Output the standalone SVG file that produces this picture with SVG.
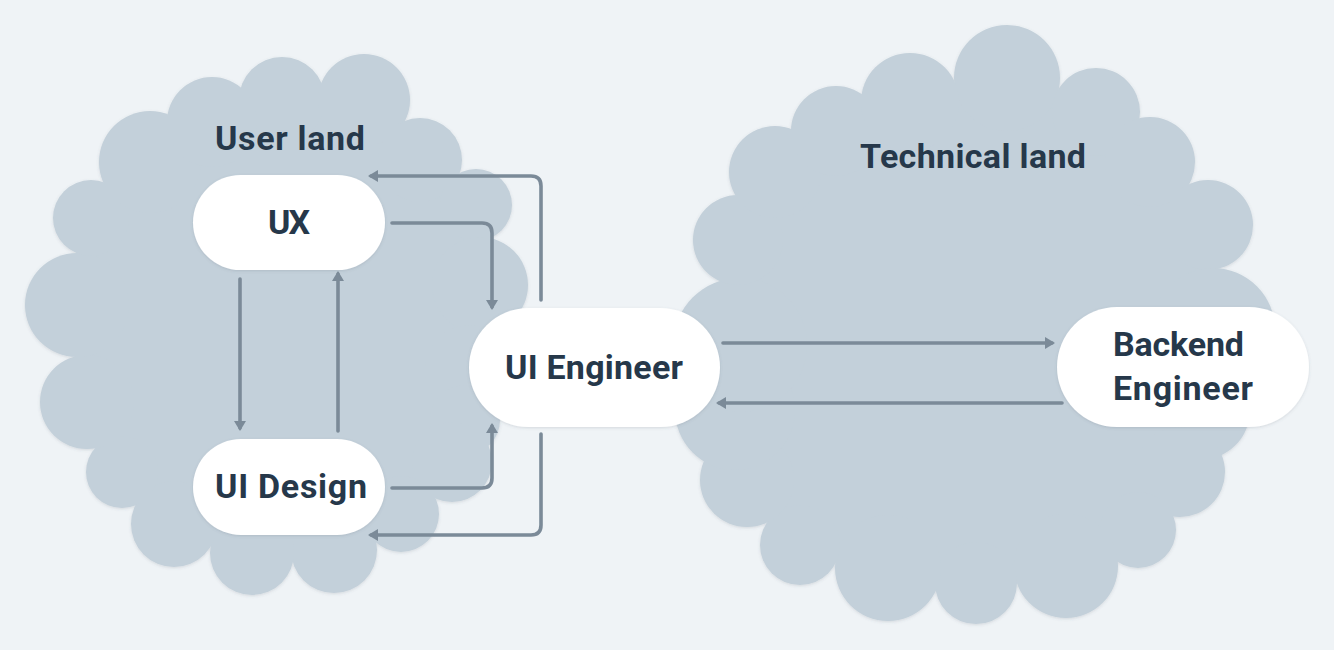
<svg xmlns="http://www.w3.org/2000/svg" width="1334" height="650" viewBox="0 0 1334 650">
<defs>
<style>
.cloud{fill:#c3d0da}
.node{fill:#ffffff}
.t{font-family:Roboto,"Liberation Sans",sans-serif;font-weight:700;font-size:34px;fill:#26384a}
.c{text-anchor:middle}
.conn path{fill:none;stroke:#7b8a98;stroke-width:3.6;stroke-linecap:round;stroke-linejoin:round;marker-end:url(#ah)}
</style>
<marker id="ah" markerUnits="userSpaceOnUse" markerWidth="10" markerHeight="12" viewBox="0 0 10 12" refX="7" refY="6" orient="auto">
<path d="M0,0 L10,6 L0,12 z" fill="#7b8a98"/>
</marker>
<filter id="sh" x="-10%" y="-10%" width="120%" height="120%">
<feDropShadow dx="0" dy="1" stdDeviation="1.5" flood-color="#506070" flood-opacity="0.18"/>
</filter>
</defs>
<rect width="1334" height="650" fill="#eff3f6"/>
<g id="user-land" class="cloud" filter="url(#sh)">
<polygon points="282,100 364,100 420,160 476,205 480,285 470,370 465,420 452,462 401,514 334,550 252,553 174,524 122,472 87,402 77,305 91,218 150,162 212,122"/>
<circle cx="282" cy="100" r="43"/>
<circle cx="364" cy="100" r="46"/>
<circle cx="420" cy="160" r="42"/>
<circle cx="476" cy="205" r="36"/>
<circle cx="480" cy="285" r="48"/>
<circle cx="470" cy="370" r="45"/>
<circle cx="465" cy="420" r="35"/>
<circle cx="452" cy="462" r="40"/>
<circle cx="401" cy="514" r="38"/>
<circle cx="334" cy="550" r="43"/>
<circle cx="252" cy="553" r="42"/>
<circle cx="174" cy="524" r="43"/>
<circle cx="122" cy="472" r="36"/>
<circle cx="87" cy="402" r="47"/>
<circle cx="77" cy="305" r="52"/>
<circle cx="91" cy="218" r="38"/>
<circle cx="150" cy="162" r="51"/>
<circle cx="212" cy="122" r="45"/>
</g>
<g id="technical-land" class="cloud" filter="url(#sh)">
<polygon points="1007,78 1096,112 1150,162 1208,225 1213,330 1200,410 1180,472 1138,530 1066,566 976,583 888,568 800,545 747,480 735,410 740,345 738,240 775,172 836,131 910,102"/>
<circle cx="1007" cy="78" r="53"/>
<circle cx="1096" cy="112" r="44"/>
<circle cx="1150" cy="162" r="45"/>
<circle cx="1208" cy="225" r="45"/>
<circle cx="1213" cy="330" r="62"/>
<circle cx="1200" cy="410" r="50"/>
<circle cx="1180" cy="472" r="45"/>
<circle cx="1138" cy="530" r="38"/>
<circle cx="1066" cy="566" r="52"/>
<circle cx="976" cy="583" r="41"/>
<circle cx="888" cy="568" r="53"/>
<circle cx="800" cy="545" r="40"/>
<circle cx="747" cy="480" r="47"/>
<circle cx="735" cy="410" r="60"/>
<circle cx="740" cy="345" r="67"/>
<circle cx="738" cy="240" r="45"/>
<circle cx="775" cy="172" r="46"/>
<circle cx="836" cy="131" r="45"/>
<circle cx="910" cy="102" r="49"/>
</g>
<text class="t" x="215" y="150" textLength="150" lengthAdjust="spacing">User land</text>
<text class="t" x="860" y="168" textLength="226" lengthAdjust="spacing">Technical land</text>
<g id="connectors" class="conn">
<path d="M240,279 V428"/>
<path d="M338,431 V274"/>
<path d="M392,223 H482 Q492,223 492,233 V307"/>
<path d="M541,300 V186 Q541,176 531,176 H371"/>
<path d="M392,488 H482 Q492,488 492,478 V426"/>
<path d="M541,434 V525 Q541,535 531,535 H371"/>
<path d="M723,343 H1052"/>
<path d="M1062,403 H719"/>
</g>
<g id="ux">
<rect class="node" x="193" y="175" width="192" height="95" rx="47.5" filter="url(#sh)"/>
<text class="t" x="268" y="234" textLength="42" lengthAdjust="spacing">UX</text>
</g>
<g id="ui-design">
<rect class="node" x="193" y="439" width="192" height="96" rx="48" filter="url(#sh)"/>
<text class="t" x="215" y="498" textLength="152" lengthAdjust="spacing">UI Design</text>
</g>
<g id="ui-engineer">
<rect class="node" x="469" y="308" width="251" height="119" rx="59.5" filter="url(#sh)"/>
<text class="t" x="505" y="379" textLength="178" lengthAdjust="spacing">UI Engineer</text>
</g>
<g id="backend-engineer">
<rect class="node" x="1057" y="307" width="252" height="120" rx="60" filter="url(#sh)"/>
<text class="t" x="1113" y="356" textLength="131" lengthAdjust="spacing">Backend</text>
<text class="t" x="1113" y="400" textLength="140" lengthAdjust="spacing">Engineer</text>
</g>
</svg>
